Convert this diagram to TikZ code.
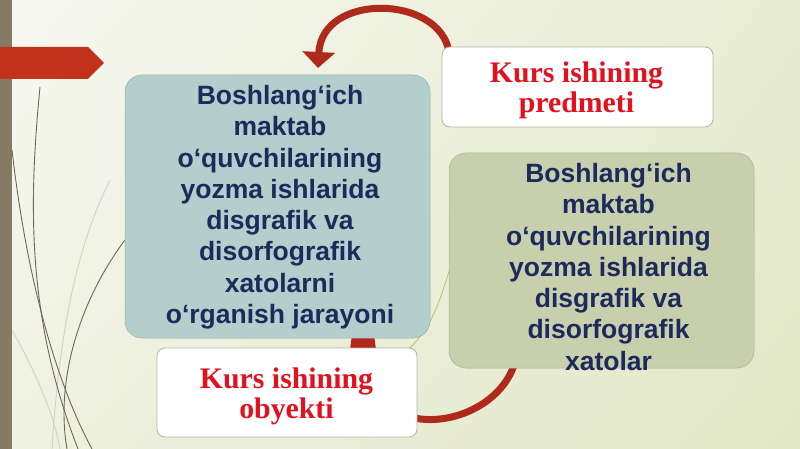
\documentclass[tikz,border=0pt]{standalone}
\usepackage{fontspec}
\setmainfont{Liberation Serif}
\setsansfont{Liberation Sans}
\usetikzlibrary{arrows.meta,shadings}
\definecolor{bgA}{HTML}{F7F8F1}
\definecolor{bgB}{HTML}{E8ECD2}
\definecolor{bgC}{HTML}{EFF1E2}
\definecolor{bgD}{HTML}{E2E7C6}
\definecolor{barcol}{HTML}{857B64}
\definecolor{flagred}{HTML}{C0321C}
\definecolor{arrowred}{HTML}{B02A1B}
\definecolor{navy}{HTML}{1C2A5C}
\definecolor{redtxt}{HTML}{E3101E}
\definecolor{tealfill}{HTML}{B3CECB}
\definecolor{olivefill}{HTML}{C8CFAD}
\definecolor{boxline}{HTML}{B4B4AA}
\definecolor{decoline}{HTML}{6E6852}
\definecolor{decofaint}{HTML}{D2D3C4}
\definecolor{decoyellow}{HTML}{BFC66E}
\begin{document}
\begin{tikzpicture}[x=1pt,y=-1pt,
  bluetext/.style={font=\sffamily\bfseries\fontsize{26.5}{31.3}\selectfont, text=navy, align=center, inner sep=0pt, anchor=north},
  redtext/.style={font=\rmfamily\bfseries\fontsize{29.8}{30}\selectfont, text=redtxt, align=center, inner sep=0pt, anchor=north},
  whitebox/.style={draw=boxline, line width=0.8pt, fill=white, rounded corners=8pt},
  colbox/.style={draw=#1!85!black, line width=0.5pt, fill=#1, rounded corners=17pt},
  cyclearrow/.style={draw=arrowred, line width=7pt, -{Triangle[length=16pt,width=32pt]}},
  deco/.style={draw=decoline, line width=0.9pt},
  decofade/.style={draw=decofaint, line width=0.9pt}
]
\useasboundingbox (0,0) rectangle (800,449);
\shade[upper left=bgA, upper right=bgB, lower left=bgC, lower right=bgD] (0,0) rectangle (800,449);
% left bar and flag
\fill[barcol] (0,0) rectangle (12,449);
\fill[flagred] (0,47) -- (88,47) -- (104,63) -- (88,79) -- (0,79) -- cycle;
% decorative lines
\draw[decofade] (110,180) .. controls (80,240) and (60,320) .. (52,449);
\draw[decofade] (12,330) .. controls (40,380) and (55,420) .. (60,449);
\draw[deco] (40,87) .. controls (28,210) and (28,320) .. (78,449);
\draw[deco] (12,150) .. controls (28,290) and (60,390) .. (92,449);
\draw[deco] (125,240) .. controls (80,300) and (55,380) .. (67,449);
\draw[draw=decoyellow, line width=0.9pt] (452,262) .. controls (440,300) and (432,330) .. (405,352);
% cycle arrows
\coordinate (t0) at (449,52);
\coordinate (t1) at (318,68);
\coordinate (b0) at (515,362);
\coordinate (b1) at (363,250);
\draw[cyclearrow] (t0) .. controls (440,-5) and (322,-8) .. (t1);
\draw[cyclearrow, -{Triangle[length=100pt,width=24pt]}] (b0) .. controls (495,432) and (363,450) .. (b1);
% boxes
\node[colbox=tealfill, minimum width=305pt, minimum height=263pt] (tealbox) at (277.5,206.5) {};
\node[colbox=olivefill, minimum width=305pt, minimum height=215pt] (olivebox) at (601.5,260.5) {};
\node[whitebox, minimum width=271pt, minimum height=80pt] (predbox) at (577.5,87) {};
\node[whitebox, minimum width=260pt, minimum height=89pt] (obbox) at (287,392.5) {};
% texts
\node[bluetext] (tealtext) at (280,85) {Boshlang‘ich\\maktab\\o‘quvchilarining\\yozma ishlarida\\disgrafik va\\disorfografik\\xatolarni\\o‘rganish jarayoni};
\node[bluetext] (olivetext) at (608.5,163) {Boshlang‘ich\\maktab\\o‘quvchilarining\\yozma ishlarida\\disgrafik va\\disorfografik\\xatolar};
\node[redtext] (predtext) at (576.5,62) {Kurs ishining\\predmeti};
\node[redtext] (obtext) at (286.5,368) {Kurs ishining\\obyekti};
\end{tikzpicture}
\end{document}
